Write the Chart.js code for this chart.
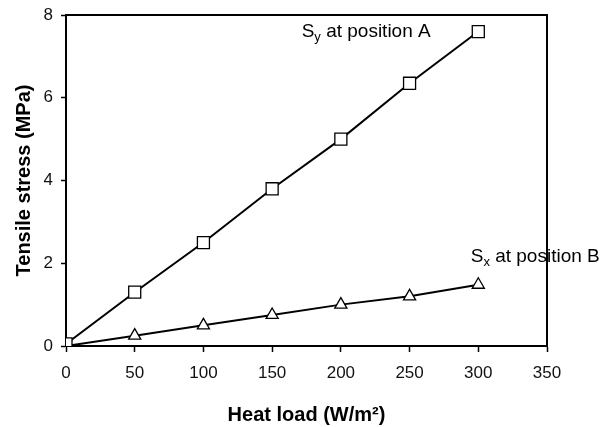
<!DOCTYPE html>
<html>
<head>
<meta charset="utf-8">
<script src="https://cdn.jsdelivr.net/npm/chart.js@4"></script>
<style>
  html, body { margin: 0; padding: 0; background: #fff; }
  #wrap { width: 604px; height: 427px; }
</style>
</head>
<body>
<div id="wrap"><canvas id="c" width="604" height="427"></canvas></div>
<script>
// heat load (W/m2)
const heatLoad = [0, 50, 100, 150, 200, 250, 300];
// Sy at position A (MPa)
const syValues = [0.05, 1.3, 2.5, 3.8, 5.0, 6.35, 7.6];
// Sx at position B (MPa)
const sxValues = [0, 0.25, 0.5, 0.75, 1.0, 1.2, 1.48];
const xTicks = [0, 50, 100, 150, 200, 250, 300, 350];
const yTicks = [0, 2, 4, 6, 8];

const FONT = 'Arial, "Liberation Sans", sans-serif';

// draws the box round the plot and the series labels with subscripts
const frameAndLabels = {
  id: 'frameAndLabels',
  afterDraw(chart) {
    const { ctx, chartArea, scales } = chart;
    ctx.save();
    ctx.strokeStyle = '#000';
    ctx.lineWidth = 2;
    ctx.beginPath();
    ctx.moveTo(chartArea.left, chartArea.top);
    ctx.lineTo(chartArea.right, chartArea.top);
    ctx.lineTo(chartArea.right, chartArea.bottom);
    ctx.stroke();

    const notes = [
      { x: 171.5, y: 7.46, main: 'S', sub: 'y', rest: ' at position A' },
      { x: 294.5, y: 2.03, main: 'S', sub: 'x', rest: ' at position B' }
    ];
    ctx.fillStyle = '#000';
    ctx.textBaseline = 'alphabetic';
    ctx.textAlign = 'left';
    notes.forEach(n => {
      let px = scales.x.getPixelForValue(n.x);
      const py = scales.y.getPixelForValue(n.y);
      ctx.font = '19px ' + FONT;
      ctx.fillText(n.main, px, py);
      px += ctx.measureText(n.main).width;
      ctx.font = '13px ' + FONT;
      ctx.fillText(n.sub, px, py + 4);
      px += ctx.measureText(n.sub).width;
      ctx.font = '19px ' + FONT;
      ctx.fillText(n.rest, px, py);
    });
    ctx.restore();
  }
};

new Chart(document.getElementById('c'), {
  type: 'line',
  data: {
    datasets: [
      {
        label: 'Sy at position A',
        data: heatLoad.map((x, i) => ({ x: x, y: syValues[i] })),
        borderColor: '#000',
        borderWidth: 2,
        pointStyle: 'rect',
        pointRadius: 8.5,
        pointBorderWidth: 1.3,
        pointBackgroundColor: '#fff',
        pointBorderColor: '#000',
        order: 1
      },
      {
        label: 'Sx at position B',
        data: heatLoad.map((x, i) => ({ x: x, y: sxValues[i] })),
        borderColor: '#000',
        borderWidth: 2,
        pointStyle: 'triangle',
        pointRadius: 7,
        pointBorderWidth: 1.3,
        pointBackgroundColor: '#fff',
        pointBorderColor: '#000',
        order: 2
      }
    ]
  },
  options: {
    responsive: false,
    animation: false,
    layout: { padding: { left: 0, top: 15, right: 57, bottom: 0 } },
    plugins: { legend: { display: false }, tooltip: { enabled: false } },
    elements: { line: { tension: 0 } },
    scales: {
      x: {
        type: 'linear',
        min: 0,
        max: 350,
        afterBuildTicks: s => { s.ticks = xTicks.map(v => ({ value: v })); },
        afterFit: s => { s.height = 81; s.paddingLeft = 0; s.paddingRight = 0; },
        grid: { drawOnChartArea: false, drawTicks: true, tickLength: 6, color: '#000', tickWidth: 1.5 },
        border: { display: true, color: '#000', width: 2 },
        ticks: { color: '#111', font: { family: FONT, size: 17 }, padding: 11, maxRotation: 0 },
        title: {
          display: true,
          text: 'Heat load (W/m²)',
          color: '#000',
          font: { family: FONT, size: 20, weight: 'bold' },
          padding: { top: 5, bottom: 0 }
        }
      },
      y: {
        type: 'linear',
        min: 0,
        max: 8,
        afterBuildTicks: s => { s.ticks = yTicks.map(v => ({ value: v })); },
        afterFit: s => { s.width = 66; s.paddingTop = 0; s.paddingBottom = 0; },
        grid: { drawOnChartArea: false, drawTicks: true, tickLength: 5, color: '#000', tickWidth: 1.5 },
        border: { display: true, color: '#000', width: 2 },
        ticks: { color: '#111', font: { family: FONT, size: 17 }, padding: 8 },
        title: {
          display: true,
          text: 'Tensile stress (MPa)',
          color: '#000',
          font: { family: FONT, size: 20, weight: 'bold' },
          padding: { top: 12, bottom: 0 }
        }
      }
    }
  },
  plugins: [frameAndLabels]
});
</script>
</body>
</html>
